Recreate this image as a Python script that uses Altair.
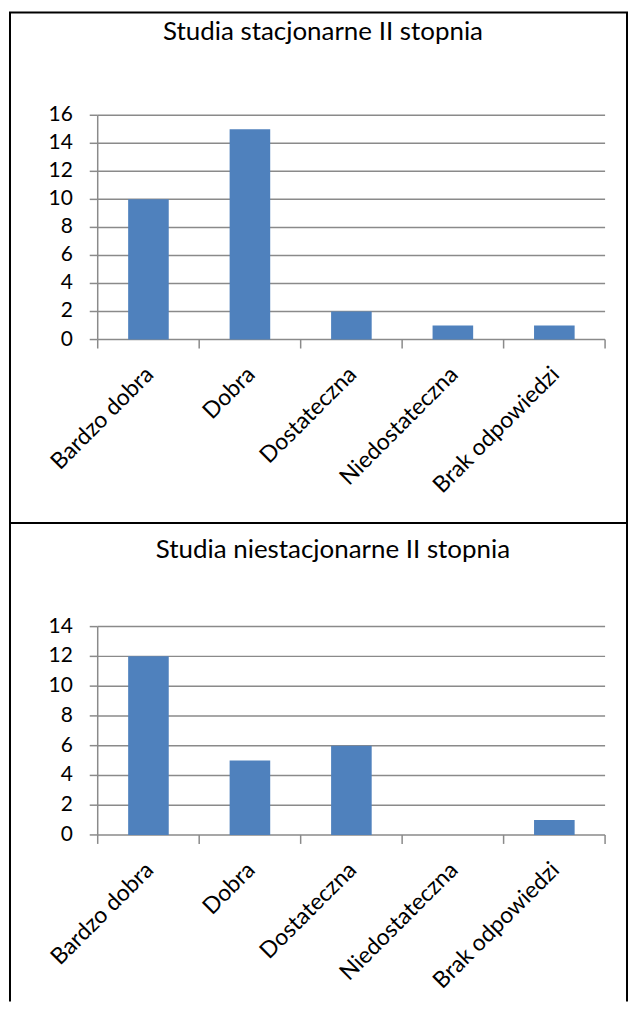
import altair as alt
import pandas as pd

categories = ["Bardzo dobra", "Dobra", "Dostateczna", "Niedostateczna", "Brak odpowiedzi"]
values_stacj = [10, 15, 2, 1, 1]
values_niestacj = [12, 5, 6, 0, 1]
ticks_stacj = [0, 2, 4, 6, 8, 10, 12, 14, 16]
ticks_niestacj = [0, 2, 4, 6, 8, 10, 12, 14]
title_stacj = "Studia stacjonarne II stopnia"
title_niestacj = "Studia niestacjonarne II stopnia"

FONT = "Lato"
GRAY = "#8a8a8a"
BAR = "#4F81BD"
W = 619
X0, X1 = 88, 597


def panel(title, values, ticks, ymax, yrange, title_x, title_y, h, boxed):
    bars_df = pd.DataFrame({"kat": categories, "n": values})
    cat_df = pd.DataFrame({"kat": categories})
    last_df = pd.DataFrame({"kat": categories[-1:]})
    grid_df = pd.DataFrame({"v": ticks})
    dom_df = pd.DataFrame({"lo": [ticks[0]], "hi": [ticks[-1]]})
    title_df = pd.DataFrame({"t": [title]})
    ybase = yrange[0]
    yscale = alt.Scale(domain=[0, ymax], range=yrange, nice=False, zero=True)
    xscale = alt.Scale(domain=categories, range=[X0, X1], paddingInner=0, paddingOuter=0)

    grid = alt.Chart(grid_df).mark_rule(color=GRAY, strokeWidth=1.5).encode(
        y=alt.Y("v:Q", scale=yscale, axis=None),
        x=alt.value(X0), x2=alt.value(X1))
    yticks = alt.Chart(grid_df).mark_rule(color=GRAY, strokeWidth=1.5).encode(
        y=alt.Y("v:Q", scale=yscale, axis=None),
        x=alt.value(X0 - 8), x2=alt.value(X0))
    ylabels = alt.Chart(grid_df).mark_text(font=FONT, fontSize=21, align="right",
                                           baseline="middle", color="black").encode(
        y=alt.Y("v:Q", scale=yscale, axis=None),
        x=alt.value(X0 - 25), text=alt.Text("v:Q", format="d"))
    ydomain = alt.Chart(dom_df).mark_rule(color=GRAY, strokeWidth=1.5).encode(
        y=alt.Y("lo:Q", scale=yscale, axis=None), y2="hi:Q", x=alt.value(X0))
    xticks = alt.Chart(cat_df).mark_rule(color=GRAY, strokeWidth=1.5).encode(
        x=alt.X("kat:N", scale=xscale, sort=categories, axis=None, bandPosition=0),
        y=alt.value(ybase), y2=alt.value(ybase + 9))
    xtick_end = alt.Chart(last_df).mark_rule(color=GRAY, strokeWidth=1.5).encode(
        x=alt.X("kat:N", scale=xscale, sort=categories, axis=None, bandPosition=1),
        y=alt.value(ybase), y2=alt.value(ybase + 9))
    bars = alt.Chart(bars_df).mark_bar(color=BAR, width=alt.RelativeBandSize(0.4)).encode(
        x=alt.X("kat:N", scale=xscale, sort=categories, axis=None),
        y=alt.Y("n:Q", scale=yscale, axis=None))
    xlabels = alt.Chart(cat_df).mark_text(font=FONT, fontSize=23, align="right",
                                          baseline="middle", angle=315, dx=2,
                                          color="black").encode(
        x=alt.X("kat:N", scale=xscale, sort=categories, axis=None),
        y=alt.value(ybase + 33), text="kat:N")
    txt = alt.Chart(title_df).mark_text(font=FONT, fontSize=26, baseline="alphabetic",
                                        align="center", color="black").encode(
        text="t:N", x=alt.value(title_x), y=alt.value(title_y))
    layers = [grid, ydomain, yticks, xticks, xtick_end, bars, ylabels, xlabels, txt]
    if boxed:
        view = alt.ViewBackground(stroke="black", strokeWidth=2)
    else:
        view = alt.ViewBackground(stroke="transparent")
        side = pd.DataFrame({"s": [0]})
        left = alt.Chart(side).mark_rule(color="black", strokeWidth=2).encode(
            x=alt.value(0), y=alt.value(0), y2=alt.value(h))
        right = alt.Chart(side).mark_rule(color="black", strokeWidth=2).encode(
            x=alt.value(W), y=alt.value(0), y2=alt.value(h))
        layers += [left, right]
    return alt.layer(*layers).properties(width=W, height=h, view=view)


top = panel(title_stacj, values_stacj, ticks_stacj, 16, [328, 103], 314, 27, 512, True)
bottom = panel(title_niestacj, values_niestacj, ticks_niestacj, 14, [313, 104], 324, 35, 480, False)

chart = alt.vconcat(top, bottom, spacing=0, bounds="flush").properties(
    padding={"left": 0, "top": 2, "right": 0, "bottom": 0}
).configure_view(stroke=None)

chart.save("out.html", embed_options={"renderer": "svg", "actions": False})
